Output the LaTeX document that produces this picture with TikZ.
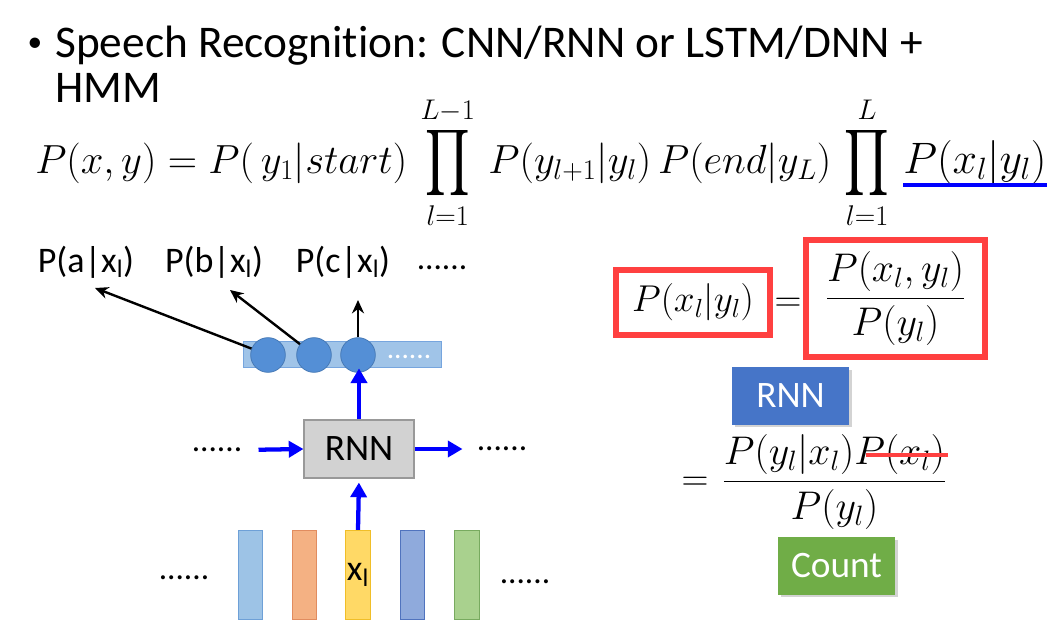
\RequirePackage{fix-cm}
\documentclass[tikz,border=0pt]{standalone}
\usepackage{amsmath}
\usepackage{graphicx}
\usepackage{fontspec}
\setmainfont{Carlito}[Ligatures=NoCommon]
\usetikzlibrary{arrows.meta,shadows,calc}
\newcommand{\tallprod}{\mathop{\vcenter{\hbox{\scalebox{1.05}[1.4]{$\displaystyle\prod$}}}}\limits}
\definecolor{arrowblue}{RGB}{0,0,255}
\definecolor{boxred}{RGB}{255,64,64}
\definecolor{circblue}{RGB}{84,143,214}
\definecolor{barblue}{RGB}{160,196,232}
\definecolor{rnngray}{RGB}{210,210,210}
\definecolor{rnnblue}{RGB}{70,117,200}
\definecolor{countgreen}{RGB}{112,173,71}
\definecolor{fA}{RGB}{157,195,230}\definecolor{dA}{RGB}{110,160,215}
\definecolor{fB}{RGB}{244,177,131}\definecolor{dB}{RGB}{225,140,95}
\definecolor{fC}{RGB}{255,217,102}\definecolor{dC}{RGB}{240,190,40}
\definecolor{fD}{RGB}{143,170,220}\definecolor{dD}{RGB}{80,115,190}
\definecolor{fE}{RGB}{169,209,142}\definecolor{dE}{RGB}{120,170,95}
\begin{document}
\begin{tikzpicture}[x=0.75pt,y=-0.75pt,
  lbl/.style={inner sep=0pt, font=\fontsize{27}{32}\selectfont},
  mth/.style={inner sep=0pt, font=\fontsize{28}{34}\selectfont},
  dots/.style={inner sep=0pt, font=\fontsize{25}{30}\selectfont},
  barr/.style={draw=arrowblue, line width=3.2pt, -{Triangle[length=11pt,width=12pt]}},
  karr/.style={draw=black, line width=1.8pt, -{Stealth[length=10pt,width=9pt]}},
  feat/.style={minimum width=18.5pt, minimum height=67pt, inner sep=0pt, line width=0.8pt},
  circ/.style={circle, fill=circblue, draw=circblue!85!black, line width=0.6pt, minimum size=26pt, inner sep=0pt},
  redbox/.style={draw=boxred, line width=4.5pt, inner sep=0pt},
  tag/.style={minimum width=88pt, minimum height=43pt, inner sep=0pt, text=white, font=\fontsize{28}{34}\selectfont, drop shadow={shadow xshift=2pt, shadow yshift=-2pt, opacity=0.35}}
]
\useasboundingbox (0,0) rectangle (1055,631);

% title
\node[inner sep=0pt, font=\fontsize{22}{26}\selectfont] (bul) at (35,45) {•};
\node[anchor=base west, inner sep=0pt, font=\fontsize{34}{40}\selectfont] (title) at (55,58) {Speech Recognition: CNN/RNN or LSTM/DNN +};
\node[anchor=base west, inner sep=0pt, font=\fontsize{34}{40}\selectfont] (hmm) at (55,103) {HMM};

% top formula
\node[anchor=base west, inner sep=0pt, font=\fontsize{30.5}{36}\selectfont] (eq1) at (35,173) {$\displaystyle P(x,y)=P(\,y_1|start)\,\tallprod_{l=1}^{L-1}\,P(y_{l+1}|y_l)\,P(end|y_L)\,\tallprod_{l=1}^{L}$};
\node[anchor=base west, inner sep=0pt, font=\fontsize{33}{40}\selectfont] (eq2) at (903,173) {$P(x_l|y_l)$};
\draw[arrowblue, line width=3.5pt] ($(eq2.base west)+(0,12)$) -- ($(eq2.base east)+(0,12)$);

% output labels
\node[lbl] (la) at (86,262) {P(a|x\textsubscript{l})};
\node[lbl] (lb) at (214,262) {P(b|x\textsubscript{l})};
\node[lbl] (lc) at (343,262) {P(c|x\textsubscript{l})};
\node[dots] (ld) at (442,268) {......};

% output layer
\node[fill=barblue, draw=circblue!80, line width=0.8pt, minimum width=149pt, minimum height=20pt, inner sep=0pt] (bar) at (342.5,354.5) {};
\node[circ] (c1) at (268,355) {};
\node[circ] (c2) at (314,355) {};
\node[circ] (c3) at (358,355) {};
\node[dots, text=white, font=\fontsize{22}{26}\selectfont] (bd) at (409,357) {......};

\coordinate (ta) at (95,288);
\coordinate (tb) at (230,290);
\coordinate (tc) at (358,300);
\draw[karr] (c1) -- (ta);
\draw[karr] (c2) -- (tb);
\draw[karr] (c3) -- (tc);

% RNN
\node[fill=rnngray, draw=gray!80, line width=0.8pt, minimum width=82.5pt, minimum height=43.5pt, inner sep=0pt, font=\fontsize{28}{34}\selectfont] (rnn) at (359,449) {RNN};
\node[dots] (dl) at (217,450) {......};
\node[dots] (dr) at (502,449) {......};
\draw[barr, shorten <=12pt] (dl.east) -- (rnn.west);
\draw[barr, shorten >=3pt] (rnn.east) -- ($(dr.west)+(-10,0)$);
\draw[barr] (rnn.north) -- (rnn.north |- bar.south);

% features
\node[feat, fill=fA, draw=dA] (f1) at (250.5,575) {};
\node[feat, fill=fB, draw=dB] (f2) at (304.5,575) {};
\node[feat, fill=fC, draw=dC, font=\fontsize{27}{32}\selectfont] (f3) at (358,575) {x\textsubscript{l}};
\node[feat, fill=fD, draw=dD] (f4) at (412.5,575) {};
\node[feat, fill=fE, draw=dE] (f5) at (467,575) {};
\node[dots] (fl) at (184,578) {......};
\node[dots] (fr) at (525,582) {......};
\draw[barr, shorten >=3pt] (f3.north) -- (rnn.south);

% right side
\node[redbox, minimum width=115.5pt, minimum height=48.75pt, mth] (rb1) at (693,302.5) {$P(x_l|y_l)$};
\node[mth] (eqa) at (788,305) {$=$};
\node[redbox, minimum width=134pt, minimum height=88pt, font=\fontsize{30}{36}\selectfont] (rb2) at (895.5,298.5) {$\dfrac{P(x_l,y_l)}{P(y_l)}$};
\node[tag, fill=rnnblue] (tr) at (790.5,396) {RNN};
\node[mth] (eqb) at (695,484) {$=$};
\node[inner sep=0pt, font=\fontsize{30}{36}\selectfont] (fr2) at (834.5,482) {$\dfrac{P(y_l|x_l)P(x_l)}{P(y_l)}$};
\draw[boxred, line width=3.2pt] (866,455) -- (948,455);
\node[tag, fill=countgreen] (tg) at (836.5,566) {Count};
\end{tikzpicture}
\end{document}
